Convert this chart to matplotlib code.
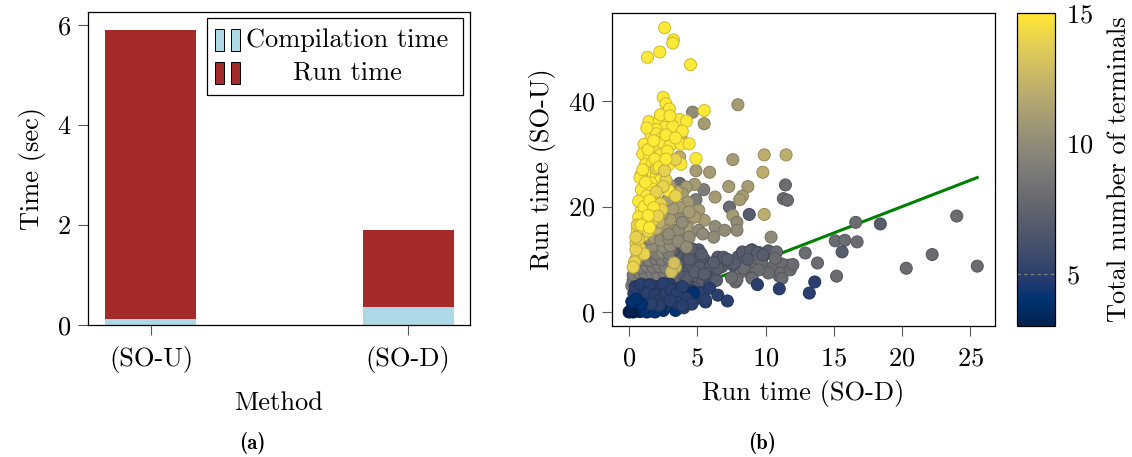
import matplotlib
matplotlib.use("Agg")
import matplotlib.pyplot as plt
import numpy as np
from matplotlib.patches import Rectangle

# ---- panel (a): mean times per method ----
methods = ["(SO-U)", "(SO-D)"]
compile_time = [0.12, 0.36]
run_time = [5.79, 1.54]
legend_labels = ["Compilation time", "Run time"]

# ---- panel (b): per-instance run times ----
sod_run = [
    # dark gray cluster
    3.0, 3.5, 4.0, 4.5, 5.0, 3.3, 3.8, 4.3, 4.9, 5.4,
    3.6, 4.1, 4.7, 5.5, 5.8, 6.2, 6.8, 7.2, 6.5, 7.6,
    8.0, 8.5, 9.0, 9.5, 10.2, 10.8, 8.3, 8.9, 9.4, 8.8,
    4.5, 5.2, 6.1, 3.5, 4.7, 2.9, 3.2, 3.9, 4.4, 5.1,
    3.2, 3.8, 4.4, 5.0, 5.4, 4.2, 4.8, 5.6, 3.6, 3.0,
    2.8, 3.3, 4.0, 4.6, 5.3, 6.0, 5.9, 6.4,
    # gray, along the diagonal and outliers
    8.2, 9.0, 7.8, 8.6, 10.5, 11.7, 11.0, 9.1, 9.7, 11.2,
    8.4, 10.2, 11.1, 9.5, 7.9, 9.0, 11.2, 11.8, 10.7, 12.0,
    11.45, 11.3, 11.6, 4.9, 5.47, 3.7, 7.35, 16.6, 18.4, 24.0,
    15.1, 15.8, 16.7, 15.6, 12.9, 13.8, 15.2, 20.3, 22.2, 25.5,
    6.9, 7.7, 6.0, 6.5, 7.2, 5.5, 6.2, 7.5, 8.7, 9.8,
    # gray-tan band
    0.3, 0.6, 1.0, 1.5, 2.0, 0.4, 0.9, 1.4, 1.9, 2.4,
    0.6, 1.2, 1.7, 2.2, 2.7, 0.8, 1.4, 1.9, 2.5, 3.0,
    1.1, 1.6, 2.2, 2.8, 1.3, 2.0, 2.6, 3.3, 2.5, 0.2,
    1.0, 4.65, 3.3, 4.3, 3.6, 0.5, 1.1, 1.7, 2.3, 2.9,
    0.35, 0.85, 1.3, 1.75, 2.25, 2.7, 3.2,
    0.3, 0.75, 1.2, 1.65, 2.1, 2.6, 3.1,
    0.4, 0.85, 1.3, 1.75, 2.2, 2.65,
    0.5, 0.95, 1.45, 1.95, 2.4, 2.9,
    0.6, 1.05, 1.55, 2.0, 2.45, 2.9,
    0.75, 1.2, 1.7, 2.5, 3.0,
    0.9, 1.5, 1.85, 2.3, 2.9,
    # tan
    7.97, 5.5, 9.9, 11.5, 7.6, 4.9, 5.9, 9.8, 7.3, 8.7,
    8.3, 8.1, 6.3, 9.9, 7.6, 7.9, 7.9, 6.3, 7.0, 6.2,
    10.4, 4.8, 4.2, 3.9, 4.3, 3.7, 5.1, 5.5, 4.8, 4.2,
    5.1, 5.4, 3.6, 3.9, 4.4, 3.8, 3.7, 2.6, 3.0, 2.4,
    3.2, 2.8, 3.5, 3.9, 2.9, 3.6, 4.2, 4.4, 3.0, 3.4,
    3.1, 3.3, 2.0, 2.2, 1.6,
    # yellow
    2.6, 3.25, 3.2, 1.35, 2.25, 4.5, 2.5, 2.7, 2.95, 5.5,
    1.45, 2.2, 2.9, 3.7, 4.2, 2.6, 3.2, 2.0, 3.9, 1.6,
    2.0, 2.4, 1.1, 1.7, 2.4, 3.0, 3.8, 4.4, 1.0, 1.5,
    2.3, 2.8, 4.9, 3.8, 1.2, 1.7, 2.9, 1.3, 2.0, 2.3,
    1.6, 0.9, 1.7, 2.9, 1.3, 1.9, 2.3, 3.4, 0.9, 1.5,
    2.4, 0.7, 1.2, 1.8, 0.6, 1.0, 0.5, 0.8, 0.6, 1.1,
    0.4, 0.5, 0.7, 1.4, 2.7, 0.9, 1.2, 2.0, 0.3, 0.6,
    0.7, 1.1, 0.8, 1.2, 1.0, 1.4, 1.9, 2.2, 2.6, 2.5,
    2.0, 1.5, 1.8, 2.1, 1.4, 0.9, 1.5, 0.5, 1.8, 2.7,
    3.4, 1.3, 2.3, 3.0, 3.4, 2.7,
    # navy
    0.0, 0.1, 0.3, 0.2, 0.5, 0.6, 0.4, 0.8, 0.9, 0.3,
    0.6, 1.1, 1.2, 0.8, 0.5, 1.0, 1.4, 1.5, 1.7, 1.8,
    0.7, 1.2, 1.6, 2.0, 2.1, 2.2, 2.0, 2.5, 2.6, 2.4,
    2.8, 2.9, 3.0, 3.3, 3.2, 3.6, 3.8, 4.1, 4.3, 4.6,
    4.9, 5.2, 5.6, 5.9, 6.5, 7.2, 4.7, 13.6, 13.2, 11.0,
    9.4, 3.4, 4.0, 2.4, 1.3, 0.15, 0.4, 1.9, 0.9, 5.6,
    0.2, 0.35, 0.45, 0.9, 1.5, 2.5, 1.3, 1.9, 2.3, 2.7,
    3.1, 3.5, 3.9, 4.2, 3.5, 3.0, 2.2, 1.6, 0.9, 0.5,
    4.6, 3.9,
]
sou_run = [
    5.5, 6.5, 5.8, 7.0, 6.0, 8.0, 9.0, 8.3, 9.5, 8.0,
    10.5, 11.2, 10.6, 10.0, 6.8, 7.5, 8.6, 9.8, 10.4, 8.9,
    10.5, 11.2, 11.8, 11.3, 11.6, 11.4, 11.4, 11.6, 11.2, 18.5,
    8.5, 8.4, 8.5, 11.0, 11.4, 6.8, 9.6, 7.4, 10.0, 11.8,
    4.8, 5.6, 5.0, 4.6, 5.8, 6.5, 7.6, 7.0, 7.3, 8.6,
    10.5, 11.8, 12.4, 12.0, 11.0, 9.2, 5.2, 6.0,
    7.6, 6.6, 5.7, 8.6, 8.5, 8.9, 6.8, 9.5, 9.5, 9.1,
    8.3, 7.4, 7.4, 8.0, 6.1, 6.4, 6.4, 8.0, 10.2, 9.0,
    24.1, 21.5, 21.2, 21.3, 23.2, 24.4, 19.9, 17.0, 16.7, 18.2,
    13.5, 13.6, 13.3, 11.4, 11.2, 9.3, 6.8, 8.3, 10.9, 8.7,
    10.4, 9.2, 8.8, 8.2, 10.0, 7.2, 9.4, 6.5, 10.0, 10.8,
    6.0, 6.8, 6.2, 6.5, 6.0, 7.5, 8.0, 7.7, 8.3, 7.4,
    9.0, 9.3, 9.8, 9.2, 9.9, 10.6, 11.0, 11.5, 11.0, 11.8,
    12.3, 13.0, 12.7, 13.2, 14.0, 14.4, 14.8, 14.2, 5.5, 5.0,
    4.2, 37.9, 15.5, 17.0, 18.0, 8.3, 7.0, 5.6, 5.2, 4.8,
    5.8, 5.6, 5.9, 5.7, 5.9, 6.1, 6.3,
    7.0, 7.3, 7.0, 7.2, 7.1, 7.3, 7.1,
    8.6, 8.4, 8.7, 8.5, 8.6, 8.4,
    9.9, 10.0, 9.8, 10.1, 9.9, 10.3,
    11.3, 11.2, 11.4, 11.0, 11.3, 11.1,
    12.6, 12.8, 12.5, 12.3, 12.6,
    14.0, 13.9, 14.1, 13.6, 14.0,
    39.3, 35.7, 29.8, 29.8, 28.9, 26.8, 26.5, 26.5, 23.8, 23.8,
    22.0, 21.3, 21.8, 18.5, 18.3, 17.0, 15.5, 16.2, 15.5, 14.2,
    14.2, 24.2, 23.7, 22.4, 20.8, 19.9, 19.3, 17.4, 18.0, 16.1,
    15.5, 14.8, 15.5, 13.6, 14.2, 33.2, 29.4, 16.0, 17.5, 18.5,
    19.6, 21.2, 22.8, 17.0, 14.8, 13.4, 12.3, 19.0, 24.0, 8.5,
    7.6, 9.3, 15.8, 17.0, 16.5,
    53.9, 51.6, 51.0, 48.3, 49.3, 46.9, 40.7, 39.5, 38.5, 38.2,
    36.1, 36.3, 36.6, 36.5, 36.2, 35.0, 35.2, 34.6, 34.3, 33.7,
    33.8, 33.0, 31.8, 31.3, 32.2, 31.6, 31.8, 31.9, 30.0, 29.5,
    29.8, 30.5, 29.1, 28.0, 28.0, 28.2, 27.9, 26.5, 26.0, 25.0,
    24.5, 23.2, 23.3, 23.0, 22.0, 21.5, 20.5, 22.0, 19.5, 19.0,
    19.4, 18.0, 17.0, 17.5, 15.5, 14.5, 13.0, 12.0, 10.5, 11.0,
    9.5, 11.8, 13.8, 15.3, 25.0, 26.0, 20.5, 27.2, 8.5, 16.5,
    21.0, 20.0, 25.5, 24.6, 27.0, 30.8, 29.0, 27.5, 26.8, 23.8,
    22.8, 21.2, 19.8, 18.2, 18.3, 16.5, 16.0, 14.2, 32.5, 33.6,
    33.0, 34.9, 37.4, 37.2, 28.9, 29.0,
    0.0, 0.2, 0.0, 0.5, 0.2, 0.6, 1.0, 0.1, 0.9, 1.6,
    1.8, 0.4, 1.3, 2.4, 3.0, 3.2, 2.2, 0.2, 1.0, 2.8,
    4.2, 4.6, 3.8, 0.5, 1.8, 3.5, 4.8, 0.3, 2.6, 4.3,
    1.4, 3.8, 5.2, 2.9, 1.0, 4.4, 2.2, 3.4, 1.6, 4.0,
    2.5, 3.7, 1.9, 4.5, 3.2, 2.1, 3.6, 5.7, 3.6, 4.4,
    5.2, 0.3, 0.8, 1.3, 0.0, 0.1, 2.5, 0.0, 4.8, 2.3,
    2.0, 3.5, 4.8, 5.3, 5.2, 5.4, 3.6, 3.2, 2.4, 3.5,
    4.2, 3.4, 4.8, 2.6, 1.8, 2.2, 1.2, 1.5, 1.5, 2.4,
    1.5, 1.2,
]
terminals = [
    7, 7, 7, 7, 7, 7, 7, 7, 7, 7,
    7, 7, 7, 7, 7, 7, 7, 7, 7, 7,
    7, 7, 7, 8, 7, 8, 7, 7, 7, 7,
    7, 7, 7, 7, 7, 7, 7, 7, 7, 7,
    6, 7, 6, 7, 7, 7, 7, 7, 7, 7,
    7, 7, 7, 7, 7, 7, 6, 7,
    8, 8, 8, 8, 8, 8, 8, 8, 8, 8,
    8, 8, 8, 8, 8, 8, 8, 8, 8, 8,
    8, 8, 8, 9, 9, 8, 8, 8, 7, 8,
    8, 8, 8, 7, 8, 8, 8, 8, 8, 8,
    7, 7, 7, 7, 7, 7, 7, 8, 7, 7,
    9, 9, 9, 9, 9, 9, 9, 9, 9, 9,
    9, 9, 9, 9, 9, 9, 9, 9, 9, 9,
    10, 10, 10, 10, 10, 10, 10, 10, 8, 9,
    10, 10, 11, 11, 10, 9, 9, 9, 8, 8,
    9, 9, 9, 9, 9, 8, 8,
    9, 9, 9, 9, 9, 9, 8,
    9, 9, 9, 9, 9, 9,
    9, 9, 9, 9, 9, 9,
    9, 10, 9, 9, 10, 9,
    10, 10, 10, 10, 10,
    10, 10, 11, 10, 10,
    11, 11, 12, 12, 11, 11, 11, 12, 11, 11,
    11, 11, 11, 12, 11, 10, 10, 10, 10, 10,
    10, 11, 11, 11, 11, 11, 11, 11, 11, 11,
    10, 10, 10, 10, 10, 12, 12, 11, 11, 11,
    11, 11, 12, 10, 10, 10, 10, 11, 11, 13,
    13, 13, 12, 12, 12,
    15, 15, 15, 15, 15, 15, 15, 15, 15, 15,
    15, 15, 15, 15, 15, 15, 15, 15, 15, 15,
    15, 15, 15, 15, 15, 15, 15, 15, 15, 15,
    15, 15, 15, 15, 15, 15, 15, 15, 15, 15,
    15, 15, 15, 15, 15, 15, 14, 14, 15, 15,
    14, 15, 15, 14, 15, 15, 14, 14, 14, 14,
    14, 14, 14, 14, 14, 14, 14, 14, 14, 14,
    15, 15, 15, 15, 15, 15, 15, 15, 14, 14,
    14, 15, 15, 14, 15, 15, 15, 14, 15, 15,
    15, 15, 15, 15, 14, 15,
    3, 3, 3, 4, 3, 4, 4, 3, 4, 5,
    5, 4, 5, 5, 5, 5, 5, 4, 4, 5,
    5, 5, 5, 4, 5, 5, 5, 4, 5, 5,
    5, 5, 5, 5, 5, 5, 5, 5, 5, 5,
    5, 5, 5, 5, 5, 5, 4, 5, 5, 5,
    5, 4, 5, 4, 4, 3, 4, 4, 5, 5,
    4, 5, 5, 5, 5, 5, 5, 5, 5, 5,
    5, 5, 5, 5, 5, 5, 5, 5, 4, 4,
    5, 5,
]
assert len(sod_run) == len(sou_run) == len(terminals)

plt.rcParams["font.family"] = "serif"
plt.rcParams["font.serif"] = ["cmr10"]
plt.rcParams["mathtext.fontset"] = "cm"
plt.rcParams["axes.formatter.use_mathtext"] = True

FS = 19
compile_color = "#add8e6"
run_color = "#a52a2a"

fig = plt.figure(figsize=(11.32, 4.57), dpi=100)

# ---------- (a) stacked bars ----------
ax1 = fig.add_axes([88 / 1132, 132 / 457, 382 / 1132, 313 / 457])
pos = np.arange(len(methods))
ax1.bar(pos, compile_time, width=0.354, color=compile_color)
ax1.bar(pos, run_time, width=0.354, bottom=compile_time, color=run_color)
ax1.set_xlim(-0.245, 1.241)
ax1.set_ylim(0, 6.26)
ax1.set_yticks([0, 2, 4, 6])
ax1.set_xticks(pos)
ax1.set_xticklabels(methods)
ax1.set_xlabel("Method", fontsize=FS, labelpad=13)
ax1.set_ylabel("Time (sec)", fontsize=FS, labelpad=8)

# legend drawn pgfplots-style: box, two small bars per entry, centred text
tr = ax1.transAxes
ax1.add_patch(Rectangle((0.3115, 0.735), 0.6702, 0.246, transform=tr,
                        facecolor="white", edgecolor="black", lw=0.9,
                        zorder=5))
for row, (lab, col) in enumerate(zip(legend_labels, [compile_color, run_color])):
    yc = 0.91 - row * 0.105
    for x0 in (0.3325, 0.3745):
        ax1.add_patch(Rectangle((x0, yc - 0.035), 0.0235, 0.07, transform=tr,
                                facecolor=col, edgecolor="black", lw=0.7,
                                zorder=6))
    ax1.text(0.678, yc, lab, transform=tr, ha="center", va="center",
             fontsize=FS, zorder=6)

# ---------- (b) scatter ----------
ax2 = fig.add_axes([612 / 1132, 131 / 457, 383 / 1132, 313 / 457])
cmap = plt.get_cmap("cividis")
norm = plt.Normalize(3, 15)
face = cmap(norm(np.array(terminals)))
edge = face.copy()
edge[:, :3] *= 0.8
ax2.plot([0, 25.5], [0, 25.5], color="green", lw=2.2, zorder=1)
sc = ax2.scatter(sod_run, sou_run, c=terminals, cmap=cmap, norm=norm, s=75,
                 edgecolors=edge, linewidths=0.7, zorder=2)
ax2.set_xlim(-1.25, 26.8)
ax2.set_ylim(-2.65, 56.7)
ax2.set_xticks([0, 5, 10, 15, 20, 25])
ax2.set_yticks([0, 20, 40])
ax2.set_xlabel("Run time (SO-D)", fontsize=FS, labelpad=7)
ax2.set_ylabel("Run time (SO-U)", fontsize=FS, labelpad=9)

for ax in (ax1, ax2):
    for s in ax.spines.values():
        s.set_linewidth(0.9)
    ax.tick_params(direction="out", length=7, width=0.8, color="#555555",
                   labelsize=FS)
    ax.tick_params(axis="x", pad=8)
    ax.tick_params(axis="y", pad=5)

# colorbar
cax = fig.add_axes([1017 / 1132, 131 / 457, 38 / 1132, 313 / 457])
cbar = fig.colorbar(sc, cax=cax)
cbar.set_ticks([5, 10, 15])
cbar.outline.set_linewidth(0.9)
cax.tick_params(length=0, labelsize=FS, pad=8)
for v in (5, 10):
    cax.axhline(v, color="#888888", lw=0.8, ls=(0, (3, 3)))
cbar.set_label("Total number of terminals", fontsize=FS, labelpad=10)

fig.text(252 / 1132, 1 - 443 / 457, "(a)", family="cmb10", fontsize=15,
         ha="center", va="center")
fig.text(762 / 1132, 1 - 443 / 457, "(b)", family="cmb10", fontsize=15,
         ha="center", va="center")

fig.savefig("out.png", dpi=100)
